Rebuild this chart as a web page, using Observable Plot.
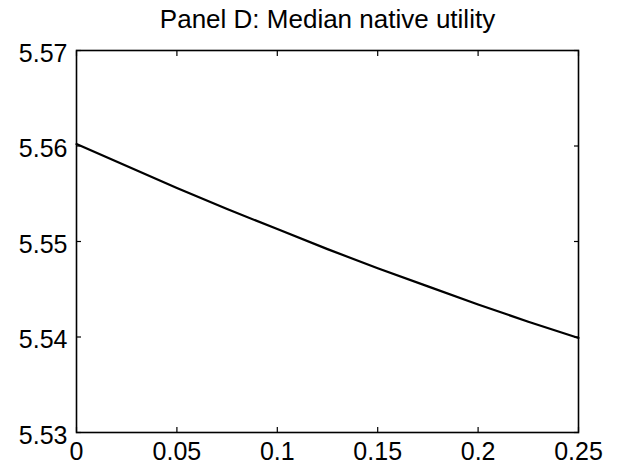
<!DOCTYPE html>
<html>
<head>
<meta charset="utf-8">
<script src="https://cdn.jsdelivr.net/npm/d3@7"></script>
<script src="https://cdn.jsdelivr.net/npm/@observablehq/plot@0.6"></script>
<style>
  html, body { margin: 0; padding: 0; background: #fff; }
</style>
</head>
<body>
<div id="chart"></div>
<script>
const title = "Panel D: Median native utility";
const xValues = [0, 0.025, 0.05, 0.075, 0.1, 0.125, 0.15, 0.175, 0.2, 0.225, 0.25];
const utility = [5.5602, 5.5579, 5.5556, 5.5534, 5.5513, 5.5492, 5.5472, 5.5453, 5.5434, 5.5416, 5.5399];
const xTicks = [0, 0.05, 0.1, 0.15, 0.2, 0.25];
const yTicks = [5.53, 5.54, 5.55, 5.56, 5.57];

const data = xValues.map((x, i) => ({x, y: utility[i]}));
const fmtX = d => String(+d.toFixed(2));
const fmtY = d3.format(".2f");
const none = () => "";

const chart = Plot.plot({
  width: 618,
  height: 474,
  marginLeft: 76,
  marginRight: 40,
  marginTop: 50,
  marginBottom: 42,
  style: {fontFamily: "'Liberation Sans', Arial, sans-serif", fontSize: "25px", background: "#fff", color: "#000"},
  x: {domain: [0, 0.25]},
  y: {domain: [5.53, 5.57]},
  marks: [
    Plot.axisX(xTicks, {anchor: "bottom", tickSize: 0, tickPadding: 10, tickFormat: fmtX, label: null, fontSize: 25}),
    Plot.axisX(xTicks, {anchor: "bottom", tickSize: -5, tickFormat: none, label: null, strokeWidth: 1.2}),
    Plot.axisX(xTicks, {anchor: "top", tickSize: -5, tickFormat: none, label: null, strokeWidth: 1.2}),
    Plot.axisY(yTicks, {anchor: "left", tickSize: 0, tickPadding: 9, tickFormat: fmtY, label: null, dy: 3, fontSize: 25}),
    Plot.axisY(yTicks, {anchor: "left", tickSize: -5, tickFormat: none, label: null, strokeWidth: 1.2}),
    Plot.axisY(yTicks, {anchor: "right", tickSize: -5, tickFormat: none, label: null, strokeWidth: 1.2}),
    Plot.frame({stroke: "#000", strokeWidth: 1.6}),
    Plot.line(data, {x: "x", y: "y", stroke: "#000", strokeWidth: 2.2}),
    Plot.text([title], {frameAnchor: "top", dy: -23, lineAnchor: "bottom", text: d => d, fontSize: 26, fill: "#000"})
  ]
});
document.getElementById("chart").appendChild(chart);
</script>
</body>
</html>
